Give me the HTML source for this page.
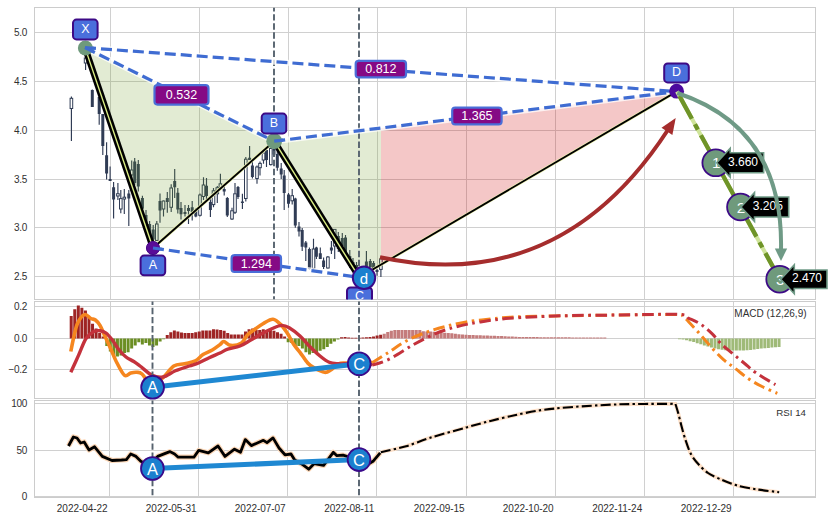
<!DOCTYPE html><html><head><meta charset="utf-8"><style>html,body{margin:0;padding:0;background:#fff;width:830px;height:520px;overflow:hidden}svg{display:block;font-family:"Liberation Sans",sans-serif}</style></head><body>
<svg width="830" height="520" viewBox="0 0 830 520">
<defs><clipPath id="c1"><rect x="34.5" y="7.5" width="781" height="292"/></clipPath><clipPath id="c2"><rect x="34.5" y="301.5" width="781" height="97"/></clipPath><clipPath id="c3"><rect x="34.5" y="400.5" width="781" height="97"/></clipPath></defs>
<rect width="830" height="520" fill="#fff"/>
<line x1="34.5" y1="32.5" x2="815.5" y2="32.5" stroke="#d0d0d0" stroke-width="1"/>
<line x1="34.5" y1="81.5" x2="815.5" y2="81.5" stroke="#d0d0d0" stroke-width="1"/>
<line x1="34.5" y1="130.5" x2="815.5" y2="130.5" stroke="#d0d0d0" stroke-width="1"/>
<line x1="34.5" y1="179.5" x2="815.5" y2="179.5" stroke="#d0d0d0" stroke-width="1"/>
<line x1="34.5" y1="227.5" x2="815.5" y2="227.5" stroke="#d0d0d0" stroke-width="1"/>
<line x1="34.5" y1="276.5" x2="815.5" y2="276.5" stroke="#d0d0d0" stroke-width="1"/>
<line x1="34.5" y1="306.5" x2="815.5" y2="306.5" stroke="#d0d0d0" stroke-width="1"/>
<line x1="34.5" y1="338.5" x2="815.5" y2="338.5" stroke="#d0d0d0" stroke-width="1"/>
<line x1="34.5" y1="369.5" x2="815.5" y2="369.5" stroke="#d0d0d0" stroke-width="1"/>
<line x1="34.5" y1="403.5" x2="815.5" y2="403.5" stroke="#d0d0d0" stroke-width="1"/>
<line x1="34.5" y1="450.5" x2="815.5" y2="450.5" stroke="#d0d0d0" stroke-width="1"/>
<line x1="34.5" y1="496.5" x2="815.5" y2="496.5" stroke="#d0d0d0" stroke-width="1"/>
<line x1="110.5" y1="7.5" x2="110.5" y2="299.5" stroke="#d0d0d0" stroke-width="1"/>
<line x1="110.5" y1="301.5" x2="110.5" y2="398.5" stroke="#d0d0d0" stroke-width="1"/>
<line x1="109.5" y1="400.5" x2="109.5" y2="497.5" stroke="#d0d0d0" stroke-width="1"/>
<line x1="199.5" y1="7.5" x2="199.5" y2="299.5" stroke="#d0d0d0" stroke-width="1"/>
<line x1="199.5" y1="301.5" x2="199.5" y2="398.5" stroke="#d0d0d0" stroke-width="1"/>
<line x1="198.5" y1="400.5" x2="198.5" y2="497.5" stroke="#d0d0d0" stroke-width="1"/>
<line x1="288.5" y1="7.5" x2="288.5" y2="299.5" stroke="#d0d0d0" stroke-width="1"/>
<line x1="288.5" y1="301.5" x2="288.5" y2="398.5" stroke="#d0d0d0" stroke-width="1"/>
<line x1="287.5" y1="400.5" x2="287.5" y2="497.5" stroke="#d0d0d0" stroke-width="1"/>
<line x1="377.5" y1="7.5" x2="377.5" y2="299.5" stroke="#d0d0d0" stroke-width="1"/>
<line x1="377.5" y1="301.5" x2="377.5" y2="398.5" stroke="#d0d0d0" stroke-width="1"/>
<line x1="376.5" y1="400.5" x2="376.5" y2="497.5" stroke="#d0d0d0" stroke-width="1"/>
<line x1="466.5" y1="7.5" x2="466.5" y2="299.5" stroke="#d0d0d0" stroke-width="1"/>
<line x1="466.5" y1="301.5" x2="466.5" y2="398.5" stroke="#d0d0d0" stroke-width="1"/>
<line x1="466.5" y1="400.5" x2="466.5" y2="497.5" stroke="#d0d0d0" stroke-width="1"/>
<line x1="555.5" y1="7.5" x2="555.5" y2="299.5" stroke="#d0d0d0" stroke-width="1"/>
<line x1="555.5" y1="301.5" x2="555.5" y2="398.5" stroke="#d0d0d0" stroke-width="1"/>
<line x1="555.5" y1="400.5" x2="555.5" y2="497.5" stroke="#d0d0d0" stroke-width="1"/>
<line x1="644.5" y1="7.5" x2="644.5" y2="299.5" stroke="#d0d0d0" stroke-width="1"/>
<line x1="644.5" y1="301.5" x2="644.5" y2="398.5" stroke="#d0d0d0" stroke-width="1"/>
<line x1="644.5" y1="400.5" x2="644.5" y2="497.5" stroke="#d0d0d0" stroke-width="1"/>
<line x1="733.5" y1="7.5" x2="733.5" y2="299.5" stroke="#d0d0d0" stroke-width="1"/>
<line x1="733.5" y1="301.5" x2="733.5" y2="398.5" stroke="#d0d0d0" stroke-width="1"/>
<line x1="733.5" y1="400.5" x2="733.5" y2="497.5" stroke="#d0d0d0" stroke-width="1"/>
<rect x="34.5" y="7.5" width="781" height="292" fill="none" stroke="#cccccc" stroke-width="1"/>
<rect x="34.5" y="301.5" width="781" height="97" fill="none" stroke="#cccccc" stroke-width="1"/>
<rect x="34.5" y="400.5" width="781" height="97" fill="none" stroke="#cccccc" stroke-width="1"/>
<text x="26.9" y="32.2" font-size="10" letter-spacing="-0.35" fill="#303030" text-anchor="end" dominant-baseline="central">5.0</text>
<text x="26.9" y="81.2" font-size="10" letter-spacing="-0.35" fill="#303030" text-anchor="end" dominant-baseline="central">4.5</text>
<text x="26.9" y="130.2" font-size="10" letter-spacing="-0.35" fill="#303030" text-anchor="end" dominant-baseline="central">4.0</text>
<text x="26.9" y="179.2" font-size="10" letter-spacing="-0.35" fill="#303030" text-anchor="end" dominant-baseline="central">3.5</text>
<text x="26.9" y="227.2" font-size="10" letter-spacing="-0.35" fill="#303030" text-anchor="end" dominant-baseline="central">3.0</text>
<text x="26.9" y="276.2" font-size="10" letter-spacing="-0.35" fill="#303030" text-anchor="end" dominant-baseline="central">2.5</text>
<text x="26.9" y="306.2" font-size="10" letter-spacing="-0.35" fill="#303030" text-anchor="end" dominant-baseline="central">0.2</text>
<text x="26.9" y="338.2" font-size="10" letter-spacing="-0.35" fill="#303030" text-anchor="end" dominant-baseline="central">0.0</text>
<text x="26.9" y="369.2" font-size="10" letter-spacing="-0.35" fill="#303030" text-anchor="end" dominant-baseline="central">−0.2</text>
<text x="26.9" y="403.2" font-size="10" letter-spacing="-0.35" fill="#303030" text-anchor="end" dominant-baseline="central">100</text>
<text x="26.9" y="450.2" font-size="10" letter-spacing="-0.35" fill="#303030" text-anchor="end" dominant-baseline="central">50</text>
<text x="26.9" y="496.2" font-size="10" letter-spacing="-0.35" fill="#303030" text-anchor="end" dominant-baseline="central">0</text>
<text x="82.2" y="512.1" font-size="10" letter-spacing="-0.05" fill="#303030" text-anchor="middle">2022-04-22</text>
<text x="171.2" y="512.1" font-size="10" letter-spacing="-0.05" fill="#303030" text-anchor="middle">2022-05-31</text>
<text x="260.2" y="512.1" font-size="10" letter-spacing="-0.05" fill="#303030" text-anchor="middle">2022-07-07</text>
<text x="349.2" y="512.1" font-size="10" letter-spacing="-0.05" fill="#303030" text-anchor="middle">2022-08-11</text>
<text x="439.2" y="512.1" font-size="10" letter-spacing="-0.05" fill="#303030" text-anchor="middle">2022-09-15</text>
<text x="528.2" y="512.1" font-size="10" letter-spacing="-0.05" fill="#303030" text-anchor="middle">2022-10-20</text>
<text x="617.2" y="512.1" font-size="10" letter-spacing="-0.05" fill="#303030" text-anchor="middle">2022-11-24</text>
<text x="706.2" y="512.1" font-size="10" letter-spacing="-0.05" fill="#303030" text-anchor="middle">2022-12-29</text>
<g clip-path="url(#c1)">
<path d="M71.4 96.4V141M85.6 57V70M92.3 89.6V107M99.2 97V124.8M102.8 114V155M106.6 142.3V179.5M110.1 166.5V181M113.6 182V218.4M117.9 183V200M120.8 190V213.3M124.3 189V214M128.8 190V226M131.7 160.5V190M134.7 158V185M138.3 160V191.6M142.4 195.8V212M146 210V230M149.6 221V240M153.2 225V245M156.8 221V241M160 193.5V222.7M163.5 200.4V216.5M167.3 192V212.7M171.2 184.2V212M174.7 169V198M177.8 188V213.5M181 202V219.6M185 205V216.5M188.5 205V224M192.2 201V220.4M195.8 208V217.3M200 193.5V216.5M203.5 177.3V200M206.5 178V200M210.4 198.5V217M213.5 188V207.3M217.3 186V203M220.4 173.8V189M224.2 186V195.4M227.3 197V217M232 207.7V220M235 183V214M238 186V199M242.4 193.8V209M245.8 157V201.5M249.6 146V160M252.4 160V178.5M257 165.4V183.8M260 161.5V175.4M263.5 150.8V163.8M266.5 148V167M270.8 147.7V165.4M274 145V156M277.3 150V170.8M281.2 163V179M284.2 170V210M288.5 193V207.7M292.2 189V204.6M295.3 197.7V227.7M299 222V236.6M302.2 228V251M305.8 241V261M309.4 247.5V269.8M313.5 238.8V269.8M316.4 246.7V259M320.3 247.5V259M323.6 257.6V269M327.9 256V268.4M331.4 241V254M334.7 229.4V259M338.3 232V252M342.3 233V251M345.5 235V258M349.8 250V268M353 258V272M356.5 262V276M366.4 251V267.3M370.3 259V267.3M373.6 261V268.4M377 269V275.8M380.9 256.8V276.9" stroke="#303c55" stroke-width="1.15" fill="none"/>
<path d="M90.8 90h3v17h-3zM97.7 97h3v17h-3zM101.3 114h3v32h-3zM105.1 155.3h3v18.2h-3zM108.6 179h3v2h-3zM112.1 187.3h3v12.1h-3zM127.3 193.4h3v5.2h-3zM133.2 161.4h3v21.6h-3zM136.8 164h3v22.4h-3zM140.9 198h3v10.8h-3zM144.5 215h3v13h-3zM148.1 224h3v9.5h-3zM151.7 229.6h3v10h-3zM158.5 201h3v9.4h-3zM165.8 198h3v4h-3zM173.2 181h3v6.3h-3zM176.3 192.7h3v16.9h-3zM179.5 208h3v6.2h-3zM183.5 212h3v2h-3zM187 208h3v3h-3zM190.7 207.3h3v4.7h-3zM194.3 211h3v5.5h-3zM205 185.8h3v10.2h-3zM208.9 202h3v8h-3zM222.7 189h3v2.5h-3zM225.8 198h3v17.4h-3zM236.5 187h3v10h-3zM240.9 201.5h3v1.5h-3zM248.1 157.7h3v2.3h-3zM250.9 165.4h3v11.6h-3zM265 150h3v10h-3zM272.5 149h3v5.6h-3zM275.8 154h3v13.7h-3zM279.7 168.5h3v6.1h-3zM282.7 175.4h3v17.6h-3zM287 194.6h3v9.2h-3zM293.8 198.5h3v26.9h-3zM297.5 226.5h3v5.1h-3zM300.7 230h3v16.7h-3zM304.3 242.4h3v5.1h-3zM307.9 249h3v20h-3zM314.9 247.5h3v9.3h-3zM318.8 253.2h3v5.8h-3zM322.1 260.5h3v6.5h-3zM329.9 247.5h3v2.9h-3zM336.8 236h3v13h-3zM340.8 238h3v8h-3zM344 237.4h3v19.4h-3zM348.3 256h3v10h-3zM351.5 262h3v8h-3zM355 265h3v8h-3zM364.9 261.5h3v5.8h-3zM368.8 261h3v6.3h-3zM372.1 263h3v5.4h-3zM375.5 270h3v2h-3z" fill="#303c55"/>
<rect x="70.1" y="98.3" width="2.6" height="10.2" fill="#fff" stroke="#303c55" stroke-width="1"/>
<rect x="84.3" y="58" width="2.6" height="5" fill="#fff" stroke="#303c55" stroke-width="1"/>
<rect x="116.6" y="193.7" width="2.6" height="2.3" fill="#fff" stroke="#303c55" stroke-width="1"/>
<rect x="119.5" y="198.6" width="2.6" height="10.4" fill="#fff" stroke="#303c55" stroke-width="1"/>
<rect x="123" y="197.2" width="2.6" height="1.8" fill="#fff" stroke="#303c55" stroke-width="1"/>
<rect x="130.4" y="170" width="2.6" height="5" fill="#fff" stroke="#303c55" stroke-width="1"/>
<rect x="155.5" y="224" width="2.6" height="16.4" fill="#fff" stroke="#303c55" stroke-width="1"/>
<rect x="162.2" y="201" width="2.6" height="8" fill="#fff" stroke="#303c55" stroke-width="1"/>
<rect x="169.9" y="188" width="2.6" height="19.3" fill="#fff" stroke="#303c55" stroke-width="1"/>
<rect x="198.7" y="195" width="2.6" height="20.3" fill="#fff" stroke="#303c55" stroke-width="1"/>
<rect x="202.2" y="185" width="2.6" height="11.5" fill="#fff" stroke="#303c55" stroke-width="1"/>
<rect x="212.2" y="190.8" width="2.6" height="13.8" fill="#fff" stroke="#303c55" stroke-width="1"/>
<rect x="216" y="187.7" width="2.6" height="6.1" fill="#fff" stroke="#303c55" stroke-width="1"/>
<rect x="219.1" y="183.8" width="2.6" height="3.9" fill="#fff" stroke="#303c55" stroke-width="1"/>
<rect x="230.7" y="210.8" width="2.6" height="8.2" fill="#fff" stroke="#303c55" stroke-width="1"/>
<rect x="233.7" y="193.8" width="2.6" height="18.5" fill="#fff" stroke="#303c55" stroke-width="1"/>
<rect x="244.5" y="159.2" width="2.6" height="39.3" fill="#fff" stroke="#303c55" stroke-width="1"/>
<rect x="255.7" y="167" width="2.6" height="11.5" fill="#fff" stroke="#303c55" stroke-width="1"/>
<rect x="258.7" y="163.4" width="2.6" height="4.3" fill="#fff" stroke="#303c55" stroke-width="1"/>
<rect x="262.2" y="153" width="2.6" height="7" fill="#fff" stroke="#303c55" stroke-width="1"/>
<rect x="269.5" y="148.5" width="2.6" height="16.1" fill="#fff" stroke="#303c55" stroke-width="1"/>
<rect x="290.9" y="195.7" width="2.6" height="5.1" fill="#fff" stroke="#303c55" stroke-width="1"/>
<rect x="312.2" y="249" width="2.6" height="19.4" fill="#fff" stroke="#303c55" stroke-width="1"/>
<rect x="326.6" y="257" width="2.6" height="11" fill="#fff" stroke="#303c55" stroke-width="1"/>
<rect x="333.4" y="229.4" width="2.6" height="16.6" fill="#fff" stroke="#303c55" stroke-width="1"/>
<rect x="379.6" y="258.9" width="2.6" height="10.5" fill="#fff" stroke="#303c55" stroke-width="1"/>
<polygon points="85,47.6 153,248 274.2,141.2" fill="rgb(110,155,35)" fill-opacity="0.2"/>
<polygon points="274.2,141.2 359.2,277.4 381,264.64 381,128.04" fill="rgb(110,155,35)" fill-opacity="0.2"/>
<polygon points="381,128.04 381,264.64 676.6,91.6" fill="rgb(205,0,0)" fill-opacity="0.22"/>
<line x1="274" y1="7.5" x2="274" y2="299.5" stroke="#56626e" stroke-width="1.9" stroke-dasharray="6.4 2.7" stroke-dashoffset="2.45"/>
<line x1="359" y1="7.5" x2="359" y2="299.5" stroke="#56626e" stroke-width="1.9" stroke-dasharray="6.4 2.7" stroke-dashoffset="2.45"/>
<line x1="85" y1="47.6" x2="274.2" y2="141.2" stroke="#fff" stroke-opacity="0.75" stroke-width="6"/>
<line x1="85" y1="47.6" x2="676.6" y2="91.6" stroke="#fff" stroke-opacity="0.75" stroke-width="6"/>
<line x1="153" y1="248" x2="359.2" y2="277.4" stroke="#fff" stroke-opacity="0.75" stroke-width="6"/>
<line x1="274.2" y1="141.2" x2="676.6" y2="91.6" stroke="#fff" stroke-opacity="0.75" stroke-width="6"/>
<line x1="85" y1="47.6" x2="274.2" y2="141.2" stroke="#3f6cd2" stroke-width="3.2" stroke-dasharray="11 5"/>
<line x1="85" y1="47.6" x2="676.6" y2="91.6" stroke="#3f6cd2" stroke-width="3.2" stroke-dasharray="11 5"/>
<line x1="153" y1="248" x2="359.2" y2="277.4" stroke="#3f6cd2" stroke-width="3.2" stroke-dasharray="11 5"/>
<line x1="274.2" y1="141.2" x2="676.6" y2="91.6" stroke="#3f6cd2" stroke-width="3.2" stroke-dasharray="11 5"/>
<line x1="85" y1="47.6" x2="153" y2="248" stroke="#000" stroke-width="6.4"/>
<line x1="85" y1="47.6" x2="153" y2="248" stroke="#dcef86" stroke-width="1.4"/>
<line x1="274.2" y1="141.2" x2="359.2" y2="277.4" stroke="#000" stroke-width="6.4"/>
<line x1="274.2" y1="141.2" x2="359.2" y2="277.4" stroke="#dcef86" stroke-width="1.4"/>
<line x1="153" y1="248" x2="274.2" y2="141.2" stroke="#eef5b0" stroke-width="3.2"/>
<line x1="153" y1="248" x2="274.2" y2="141.2" stroke="#000" stroke-width="2"/>
<line x1="359.2" y1="277.4" x2="676.6" y2="91.6" stroke="#eef5b0" stroke-width="3"/>
<line x1="359.2" y1="277.4" x2="676.6" y2="91.6" stroke="#000" stroke-width="1.8"/>
<circle cx="85.4" cy="48" r="7.5" fill="#6f9a7c"/>
<circle cx="274.2" cy="141.2" r="7.9" fill="#6f9a7c"/>
<circle cx="153.0" cy="248.0" r="6.6" fill="#5a0c98" stroke="#4a0a88" stroke-width="1"/>
<circle cx="676.6" cy="91.19999999999999" r="7.4" fill="#4b0a9e"/>
<line x1="85" y1="47.6" x2="93.07" y2="51.59" stroke="#3f6cd2" stroke-width="3.2"/>
<line x1="85" y1="47.6" x2="93.98" y2="48.27" stroke="#3f6cd2" stroke-width="3.2"/>
<line x1="153" y1="248" x2="161.91" y2="249.27" stroke="#3f6cd2" stroke-width="3.2"/>
<line x1="274.2" y1="141.2" x2="283.13" y2="140.1" stroke="#3f6cd2" stroke-width="3.2"/>
<rect x="73" y="19.6" width="24.6" height="19.8" rx="3.5" fill="#4a6fdc" stroke="#3d0a86" stroke-width="2"/>
<text x="85.3" y="28.6" font-size="12.5" fill="#fff" text-anchor="middle" dominant-baseline="central">X</text>
<rect x="140.6" y="255.6" width="24.6" height="19.6" rx="3.5" fill="#4a6fdc" stroke="#3d0a86" stroke-width="2"/>
<text x="152.9" y="264.5" font-size="12.5" fill="#fff" text-anchor="middle" dominant-baseline="central">A</text>
<rect x="261.7" y="113.6" width="24.6" height="19.8" rx="3.5" fill="#4a6fdc" stroke="#3d0a86" stroke-width="2"/>
<text x="274" y="122.6" font-size="12.5" fill="#fff" text-anchor="middle" dominant-baseline="central">B</text>
<rect x="664.2" y="63.4" width="24.6" height="19" rx="3.5" fill="#4a6fdc" stroke="#3d0a86" stroke-width="2"/>
<text x="676.5" y="72" font-size="12.5" fill="#fff" text-anchor="middle" dominant-baseline="central">D</text>
<rect x="347" y="287.5" width="25" height="18.5" rx="3.5" fill="#4a6fdc" stroke="#3d0a86" stroke-width="2"/>
<text x="359.5" y="295.85" font-size="12.5" fill="#fff" text-anchor="middle" dominant-baseline="central">C</text>
<circle cx="364" cy="277.8" r="11.2" fill="#1b80cf" stroke="#3a0a8a" stroke-width="2"/>
<text x="364" y="278.5" font-size="15" fill="#fff" text-anchor="middle" dominant-baseline="central">d</text>
<rect x="154.5" y="85.2" width="54" height="19.4" rx="3" fill="#850a85" stroke="#4a6ed8" stroke-width="2.2"/>
<text x="181.5" y="95.2" font-size="12.5" fill="#fff" text-anchor="middle" dominant-baseline="central">0.532</text>
<rect x="355.7" y="60.8" width="50.3" height="16.6" rx="3" fill="#850a85" stroke="#4a6ed8" stroke-width="2.2"/>
<text x="380.85" y="69.4" font-size="12.5" fill="#fff" text-anchor="middle" dominant-baseline="central">0.812</text>
<rect x="231.6" y="255.2" width="49.4" height="16.7" rx="3" fill="#850a85" stroke="#4a6ed8" stroke-width="2.2"/>
<text x="256.3" y="263.85" font-size="12.5" fill="#fff" text-anchor="middle" dominant-baseline="central">1.294</text>
<rect x="452.2" y="107.6" width="49.4" height="16.8" rx="3" fill="#850a85" stroke="#4a6ed8" stroke-width="2.2"/>
<text x="476.9" y="116.3" font-size="12.5" fill="#fff" text-anchor="middle" dominant-baseline="central">1.365</text>
<path d="M380 257.3 Q559.2 295.9 667.5 130.5" fill="none" stroke="#a52d2d" stroke-width="4"/>
<polygon points="675.72,117.95 672.39,134.9 661.51,127.78" fill="#a52d2d"/>
<polyline points="677,91.5 779.7,279.2" fill="none" stroke="#cfe49a" stroke-width="4"/>
<polyline points="677,91.5 779.7,279.2" fill="none" stroke="#6f9428" stroke-width="4.4" stroke-dasharray="26 6.4 6 6.4" stroke-dashoffset="39.8"/>
</g>
<circle cx="715.8" cy="162.8" r="13.4" fill="#6f9a7c" stroke="#3d0a86" stroke-width="1.8"/>
<text x="716.3" y="162.8" font-size="15.5" fill="#fff" text-anchor="middle" dominant-baseline="central">1</text>
<polygon points="716.7,162.8 730.2,148.3 730.2,152.8 763.6,152.8 763.6,172.8 730.2,172.8 730.2,177.3" fill="#000" stroke="#6f9a86" stroke-width="1.6" stroke-linejoin="miter"/>
<text x="743" y="162" font-size="12" fill="#fff" text-anchor="middle" dominant-baseline="central">3.660</text>
<circle cx="740.5" cy="207" r="13.4" fill="#6f9a7c" stroke="#3d0a86" stroke-width="1.8"/>
<text x="741" y="207" font-size="15.5" fill="#fff" text-anchor="middle" dominant-baseline="central">2</text>
<polygon points="741,207 754.5,192.5 754.5,197 788.7,197 788.7,217 754.5,217 754.5,221.5" fill="#000" stroke="#6f9a86" stroke-width="1.6" stroke-linejoin="miter"/>
<text x="767.8" y="206.2" font-size="12" fill="#fff" text-anchor="middle" dominant-baseline="central">3.205</text>
<circle cx="779.7" cy="279.2" r="13.4" fill="#6f9a7c" stroke="#3d0a86" stroke-width="1.8"/>
<text x="780.2" y="279.2" font-size="15.5" fill="#fff" text-anchor="middle" dominant-baseline="central">3</text>
<polygon points="780.8,279.2 794.3,264.7 794.3,269.95 827,269.95 827,288.45 794.3,288.45 794.3,293.7" fill="#000" stroke="#6f9a86" stroke-width="1.6" stroke-linejoin="miter"/>
<text x="807" y="278.4" font-size="12" fill="#fff" text-anchor="middle" dominant-baseline="central">2.470</text>
<path d="M677.3 93 Q783.7 128.3 781 250" fill="none" stroke="#6f9a86" stroke-width="4"/>
<polygon points="781,261 774.8,248.5 787.2,248.5" fill="#6f9a86"/>
<g clip-path="url(#c2)">
<path d="M69.7 316h3v22.5h-3zM73.26 309.2h3v29.3h-3zM76.81 305.4h3v33.1h-3zM80.37 307.7h3v30.8h-3zM83.93 310.5h3v28h-3zM87.48 317h3v21.5h-3zM91.04 323.8h3v14.7h-3zM94.6 328.5h3v10h-3zM98.16 333h3v5.5h-3zM101.71 336.5h3v2h-3zM165.74 335h3v3.5h-3zM169.3 332.3h3v6.2h-3zM172.85 330.5h3v8h-3zM176.41 331.5h3v7h-3zM179.97 332.6h3v5.9h-3zM183.52 333h3v5.5h-3zM187.08 333h3v5.5h-3zM190.64 333h3v5.5h-3zM194.19 332.3h3v6.2h-3zM197.75 331.5h3v7h-3zM201.31 330.5h3v8h-3zM204.87 330.5h3v8h-3zM208.42 330.5h3v8h-3zM211.98 329.2h3v9.3h-3zM215.54 329.5h3v9h-3zM219.09 330h3v8.5h-3zM222.65 330.8h3v7.7h-3zM226.21 333h3v5.5h-3zM229.76 334.6h3v3.9h-3zM233.32 334.6h3v3.9h-3zM236.88 334.6h3v3.9h-3zM240.44 334.6h3v3.9h-3zM243.99 331.5h3v7h-3zM247.55 329.2h3v9.3h-3zM251.11 328.5h3v10h-3zM254.66 330h3v8.5h-3zM258.22 330h3v8.5h-3zM261.78 329.2h3v9.3h-3zM265.33 331.5h3v7h-3zM268.89 330h3v8.5h-3zM272.45 330.8h3v7.7h-3zM276.01 332.3h3v6.2h-3zM279.56 333.8h3v4.7h-3zM283.12 336.5h3v2h-3zM340.03 337.2h3v1.3h-3zM343.59 337h3v1.5h-3zM347.15 337.4h3v1.1h-3zM350.7 337.8h3v0.7h-3zM354.26 337.8h3v0.7h-3zM357.82 337.8h3v0.7h-3zM361.37 337.6h3v0.9h-3zM364.93 337.3h3v1.2h-3zM368.49 336.9h3v1.6h-3zM372.04 336.4h3v2.1h-3zM375.6 335.6h3v2.9h-3zM379.16 334.8h3v3.7h-3z" fill="#9e2424"/>
<path d="M105.27 338.5h3v7.5h-3zM108.83 338.5h3v13h-3zM112.38 338.5h3v16.9h-3zM115.94 338.5h3v18.1h-3zM119.5 338.5h3v16.9h-3zM123.06 338.5h3v14.5h-3zM126.61 338.5h3v13.8h-3zM130.17 338.5h3v10h-3zM133.73 338.5h3v6.9h-3zM137.28 338.5h3v3.8h-3zM140.84 338.5h3v6.1h-3zM144.4 338.5h3v4.5h-3zM147.95 338.5h3v6.9h-3zM151.51 338.5h3v8.5h-3zM155.07 338.5h3v6.9h-3zM158.62 338.5h3v3h-3zM162.18 338.5h3v0.7h-3zM286.68 338.5h3v3.8h-3zM290.23 338.5h3v4.5h-3zM293.79 338.5h3v7.5h-3zM297.35 338.5h3v7.5h-3zM300.9 338.5h3v10h-3zM304.46 338.5h3v13.8h-3zM308.02 338.5h3v16.1h-3zM311.58 338.5h3v14.5h-3zM315.13 338.5h3v13.8h-3zM318.69 338.5h3v12.3h-3zM322.25 338.5h3v10.7h-3zM325.8 338.5h3v8.5h-3zM329.36 338.5h3v5.3h-3zM332.92 338.5h3v3h-3zM336.47 338.5h3v1h-3z" fill="#6b8e23"/>
<path d="M382.67 333.7h3.1v4.8h-3.1zM386.22 331.9h3.1v6.6h-3.1zM389.78 330.7h3.1v7.8h-3.1zM393.34 330h3.1v8.5h-3.1zM396.89 330h3.1v8.5h-3.1zM400.45 330h3.1v8.5h-3.1zM404.01 330h3.1v8.5h-3.1zM407.56 330h3.1v8.5h-3.1zM411.12 330h3.1v8.5h-3.1zM414.68 330h3.1v8.5h-3.1zM418.24 330h3.1v8.5h-3.1zM421.79 331.3h3.1v7.2h-3.1zM425.35 331.45h3.1v7.05h-3.1zM428.91 331.6h3.1v6.9h-3.1zM432.46 331.75h3.1v6.75h-3.1zM436.02 331.9h3.1v6.6h-3.1zM439.58 332.35h3.1v6.15h-3.1zM443.13 332.8h3.1v5.7h-3.1zM446.69 333.05h3.1v5.45h-3.1zM450.25 333.3h3.1v5.2h-3.1zM453.81 333.8h3.1v4.7h-3.1zM457.36 334.3h3.1v4.2h-3.1zM460.92 334.5h3.1v4h-3.1zM464.48 334.7h3.1v3.8h-3.1zM468.03 334.9h3.1v3.6h-3.1zM471.59 335.02h3.1v3.48h-3.1zM475.15 335.14h3.1v3.36h-3.1zM478.7 335.27h3.1v3.23h-3.1zM482.26 335.39h3.1v3.11h-3.1zM485.82 335.51h3.1v2.99h-3.1zM489.38 335.63h3.1v2.87h-3.1zM492.93 335.76h3.1v2.74h-3.1zM496.49 335.88h3.1v2.62h-3.1zM500.05 336h3.1v2.5h-3.1zM503.6 336.2h3.1v2.3h-3.1zM507.16 336.4h3.1v2.1h-3.1zM510.72 336.6h3.1v1.9h-3.1zM514.28 336.8h3.1v1.7h-3.1zM517.83 337h3.1v1.5h-3.1zM521.39 337.02h3.1v1.48h-3.1zM524.95 337.05h3.1v1.45h-3.1zM528.5 337.07h3.1v1.43h-3.1zM532.06 337.1h3.1v1.4h-3.1zM535.62 337.12h3.1v1.38h-3.1zM539.17 337.15h3.1v1.35h-3.1zM542.73 337.18h3.1v1.32h-3.1zM546.29 337.2h3.1v1.3h-3.1zM549.85 337.23h3.1v1.27h-3.1zM553.4 337.25h3.1v1.25h-3.1zM556.96 337.28h3.1v1.22h-3.1zM560.52 337.3h3.1v1.2h-3.1zM564.07 337.32h3.1v1.18h-3.1zM567.63 337.35h3.1v1.15h-3.1zM571.19 337.38h3.1v1.12h-3.1zM574.74 337.4h3.1v1.1h-3.1zM578.3 337.43h3.1v1.07h-3.1zM581.86 337.45h3.1v1.05h-3.1zM585.42 337.48h3.1v1.02h-3.1zM588.97 337.5h3.1v1h-3.1zM592.53 337.53h3.1v0.97h-3.1zM596.09 337.55h3.1v0.95h-3.1zM599.64 337.58h3.1v0.92h-3.1zM603.2 337.6h3.1v0.9h-3.1z" fill="#c47c7c"/>
<path d="M677.95 338.5h3v0.8h-3zM681.5 338.5h3v1.1h-3zM685.06 338.5h3v1.87h-3zM688.62 338.5h3v2.63h-3zM692.18 338.5h3v3.4h-3zM695.73 338.5h3v4.63h-3zM699.29 338.5h3v5.87h-3zM702.85 338.5h3v7.1h-3zM706.4 338.5h3v8.1h-3zM709.96 338.5h3v9.1h-3zM713.52 338.5h3v10.1h-3zM717.07 338.5h3v10.7h-3zM720.63 338.5h3v11.17h-3zM724.19 338.5h3v11.63h-3zM727.75 338.5h3v12.1h-3zM731.3 338.5h3v12.1h-3zM734.86 338.5h3v12.1h-3zM738.42 338.5h3v12.1h-3zM741.97 338.5h3v11.95h-3zM745.53 338.5h3v11.8h-3zM749.09 338.5h3v11.38h-3zM752.64 338.5h3v10.95h-3zM756.2 338.5h3v10.53h-3zM759.76 338.5h3v10.1h-3zM763.32 338.5h3v9.76h-3zM766.87 338.5h3v9.42h-3zM770.43 338.5h3v9.08h-3zM773.99 338.5h3v8.74h-3zM777.54 338.5h3v8.4h-3z" fill="#9fba78"/>
<path d="M70.8 351.5C71.3 349.08 72.65 341.75 73.8 337C74.95 332.25 75.9 326.73 77.7 323C79.5 319.27 82.42 315.35 84.6 314.6C86.78 313.85 89 317.6 90.8 318.5C92.6 319.4 93.87 318.85 95.4 320C96.93 321.15 98.47 322.83 100 325.4C101.53 327.97 102.8 331.47 104.6 335.4C106.4 339.33 108.73 344.4 110.8 349C112.87 353.6 114.7 358.6 117 363C119.3 367.4 122.3 373.73 124.6 375.4C126.9 377.07 128.73 373.52 130.8 373C132.87 372.48 135.13 372.13 137 372.3C138.87 372.47 139.5 371.88 142 374C144.5 376.12 148.5 384.38 152 385C155.5 385.62 159.37 380.87 163 377.7C166.63 374.53 170.2 368.32 173.8 366C177.4 363.68 181 364.67 184.6 363.8C188.2 362.93 192.33 362.33 195.4 360.8C198.47 359.27 200.18 356.4 203 354.6C205.82 352.8 209.47 351.67 212.3 350C215.13 348.33 218.08 346.02 220 344.6C221.92 343.18 222 341.37 223.8 341.5C225.6 341.63 227.85 345.15 230.8 345.4C233.75 345.65 238.8 344.67 241.5 343C244.2 341.33 244.95 337.57 247 335.4C249.05 333.23 251.13 331.93 253.8 330C256.47 328.07 259.8 325.6 263 323.8C266.2 322 269.92 318.93 273 319.2C276.08 319.47 279.05 322.97 281.5 325.4C283.95 327.83 285.65 330.6 287.7 333.8C289.75 337 291.75 341.52 293.8 344.6C295.85 347.68 297.68 349.23 300 352.3C302.32 355.37 305.4 360.43 307.7 363C310 365.57 310.98 366.15 313.8 367.7C316.62 369.25 321.77 371.92 324.6 372.3C327.43 372.68 328.48 371.42 330.8 370C333.12 368.58 335.97 364.97 338.5 363.8C341.03 362.63 342.58 363.13 346 363C349.42 362.87 354.62 363.12 359 363C363.38 362.88 370.08 362.42 372.3 362.3" fill="none" stroke="#f5861f" stroke-width="3.6" stroke-linejoin="round"/>
<path d="M70.8 372.3C72.08 369.48 75.97 361.03 78.5 355.4C81.03 349.77 83.45 342.48 86 338.5C88.55 334.52 91.47 332.78 93.8 331.5C96.13 330.22 97.97 330.55 100 330.8C102.03 331.05 103.95 331.47 106 333C108.05 334.53 110.22 337.3 112.3 340C114.38 342.7 116.22 346.37 118.5 349.2C120.78 352.03 123.45 354.95 126 357C128.55 359.05 131.47 360 133.8 361.5C136.13 363 136.92 363.68 140 366C143.08 368.32 148.47 373.57 152.3 375.4C156.13 377.23 159.15 377.77 163 377C166.85 376.23 171.03 372.63 175.4 370.8C179.77 368.97 185.35 367.3 189.2 366C193.05 364.7 195.17 364.38 198.5 363C201.83 361.62 205.62 359.37 209.2 357.7C212.78 356.03 216.92 354.42 220 353C223.08 351.58 224.37 350.37 227.7 349.2C231.03 348.03 236.15 347.53 240 346C243.85 344.47 247.22 342.03 250.8 340C254.38 337.97 257.92 335.72 261.5 333.8C265.08 331.88 268.97 329.9 272.3 328.5C275.63 327.1 278.68 325.53 281.5 325.4C284.32 325.27 286.12 325.93 289.2 327.7C292.28 329.47 296.67 332.95 300 336C303.33 339.05 305.87 342.67 309.2 346C312.53 349.33 316.67 353.28 320 356C323.33 358.72 326.12 361 329.2 362.3C332.28 363.6 335.7 363.55 338.5 363.8C341.3 364.05 342.58 363.68 346 363.8C349.42 363.92 354.62 364.37 359 364.5C363.38 364.63 370.08 364.58 372.3 364.6" fill="none" stroke="#c4323c" stroke-width="3.4" stroke-linejoin="round"/>
<path d="M372.2 362.8C375.02 361 383.47 355.62 389.1 352C394.73 348.38 399.98 344.32 406 341.1C412.02 337.88 418.78 335.1 425.2 332.7C431.62 330.3 437.67 328.5 444.5 326.7C451.33 324.9 458.57 323.18 466.2 321.9C473.83 320.62 482.27 319.82 490.3 319C498.33 318.18 502.35 317.53 514.4 317C526.45 316.47 545 316.13 562.6 315.8C580.2 315.47 601.1 315.2 620 315C638.9 314.8 665.5 314.38 676 314.6C686.5 314.82 680.87 315.07 683 316.3C685.13 317.53 685.9 318.95 688.8 322C691.7 325.05 696.53 330.27 700.4 334.6C704.27 338.93 708.15 343.83 712 348C715.85 352.17 719.67 356.22 723.5 359.6C727.33 362.98 730.83 365.1 735 368.3C739.17 371.5 744 375.77 748.5 378.8C753 381.83 757.2 384.08 762 386.5C766.8 388.92 774.75 392.17 777.3 393.3" fill="none" stroke="#f5861f" stroke-width="3" stroke-dasharray="11.5 4.6 2.6 4.6"/>
<path d="M372.2 365.2C375.02 364.2 382.27 362.6 389.1 359.2C395.93 355.8 405.57 349.02 413.2 344.8C420.83 340.58 427.67 336.92 434.9 333.9C442.13 330.88 448.97 328.7 456.6 326.7C464.23 324.7 471.87 323.3 480.7 321.9C489.53 320.5 495.95 319.32 509.6 318.3C523.25 317.28 544.2 316.35 562.6 315.8C581 315.25 600.57 315.23 620 315C639.43 314.77 667.73 313.85 679.2 314.4C690.67 314.95 685.27 316.7 688.8 318.3C692.33 319.9 696.53 321.43 700.4 324C704.27 326.57 708.48 330.33 712 333.7C715.52 337.07 718 340.85 721.5 344.2C725 347.55 729.15 350.58 733 353.8C736.85 357.02 740.73 360.3 744.6 363.5C748.47 366.7 751.07 369.48 756.2 373C761.33 376.52 772.2 382.67 775.4 384.6" fill="none" stroke="#c4323c" stroke-width="3" stroke-dasharray="11.5 4.6 2.6 4.6"/>
<text x="734.3" y="313.6" font-size="10" fill="#303030" dominant-baseline="central">MACD (12,26,9)</text>
</g>
<g clip-path="url(#c3)">
<polyline points="68.5,446 73.4,437 77,438 80.6,443 84.2,442 89,450 94.6,446.8 102.3,456.4 112,460.5 121.6,460 126.4,459.6 130.7,454 136,456.4 140.8,461.3 146,464 152,462 157.7,456.4 169.8,451.6 174.6,454 178.2,457.2 193.9,457.2 198.7,450.4 208.3,452.8 218,446 225,456.4 234.5,449.2 240.5,452.3 245.3,439.6 251.3,445.6 263.4,440.3 267,442.7 273,437.9 279,448 285,454.8 291,454 294.7,460 303,464.9 308.7,469.2 314,463.7 323.6,465.4 333.3,452.3 336.9,455.7 343,455.2 352,458 365,466 373,461.3 380.2,452.8" fill="none" stroke="#fbd6b6" stroke-width="5.2" stroke-linejoin="round"/>
<polyline points="68.5,446 73.4,437 77,438 80.6,443 84.2,442 89,450 94.6,446.8 102.3,456.4 112,460.5 121.6,460 126.4,459.6 130.7,454 136,456.4 140.8,461.3 146,464 152,462 157.7,456.4 169.8,451.6 174.6,454 178.2,457.2 193.9,457.2 198.7,450.4 208.3,452.8 218,446 225,456.4 234.5,449.2 240.5,452.3 245.3,439.6 251.3,445.6 263.4,440.3 267,442.7 273,437.9 279,448 285,454.8 291,454 294.7,460 303,464.9 308.7,469.2 314,463.7 323.6,465.4 333.3,452.3 336.9,455.7 343,455.2 352,458 365,466 373,461.3 380.2,452.8" fill="none" stroke="#000" stroke-width="2.8" stroke-linejoin="round"/>
<path d="M380.8 452.2C384.6 451.3 398.69 448.36 406.1 446.2C413.51 444.04 421.15 440.62 430.2 437.8C439.25 434.98 457.35 429.94 466.4 427.4C475.44 424.86 483.27 422.71 490.5 420.9C497.73 419.08 507.37 416.86 514.6 415.3C521.83 413.74 530.39 411.72 538.7 410.5C547.01 409.28 557.81 408.13 570 407.2C582.19 406.27 604.19 404.81 620 404.3C635.81 403.79 667.09 403.88 675.4 403.8C675.83 405.24 677.43 410.23 678.3 413.4C679.17 416.56 680.2 421.15 681.2 424.9C682.21 428.65 683.56 434.06 685 438.4C686.44 442.73 688.77 449.92 690.8 453.8C692.82 457.69 695.92 461.42 698.5 464.3C701.08 467.18 704.55 470.69 708 473C711.45 475.31 717.15 477.82 721.5 479.7C725.85 481.57 731.79 484.06 737 485.5C742.21 486.94 749.87 488.3 756.2 489.3C762.53 490.31 775.75 491.76 779.2 492.2" fill="none" stroke="#fde0c8" stroke-width="3.8"/>
<path d="M380.8 452.2C384.6 451.3 398.69 448.36 406.1 446.2C413.51 444.04 421.15 440.62 430.2 437.8C439.25 434.98 457.35 429.94 466.4 427.4C475.44 424.86 483.27 422.71 490.5 420.9C497.73 419.08 507.37 416.86 514.6 415.3C521.83 413.74 530.39 411.72 538.7 410.5C547.01 409.28 557.81 408.13 570 407.2C582.19 406.27 604.19 404.81 620 404.3C635.81 403.79 667.09 403.88 675.4 403.8C675.83 405.24 677.43 410.23 678.3 413.4C679.17 416.56 680.2 421.15 681.2 424.9C682.21 428.65 683.56 434.06 685 438.4C686.44 442.73 688.77 449.92 690.8 453.8C692.82 457.69 695.92 461.42 698.5 464.3C701.08 467.18 704.55 470.69 708 473C711.45 475.31 717.15 477.82 721.5 479.7C725.85 481.57 731.79 484.06 737 485.5C742.21 486.94 749.87 488.3 756.2 489.3C762.53 490.31 775.75 491.76 779.2 492.2" fill="none" stroke="#000" stroke-width="2.1" stroke-dasharray="10 3.2 2.4 3.2"/>
<text x="776.3" y="412.9" font-size="9.7" fill="#303030" dominant-baseline="central">RSI 14</text>
</g>
<line x1="152.5" y1="301.5" x2="152.5" y2="398.5" stroke="#56626e" stroke-width="1.9" stroke-dasharray="6.4 2.7" stroke-dashoffset="2.8"/>
<line x1="152.5" y1="400.5" x2="152.5" y2="497.5" stroke="#56626e" stroke-width="1.9" stroke-dasharray="6.4 2.7" stroke-dashoffset="2.6"/>
<line x1="359" y1="301.5" x2="359" y2="398.5" stroke="#56626e" stroke-width="1.9" stroke-dasharray="6.4 2.7" stroke-dashoffset="2.8"/>
<line x1="359" y1="400.5" x2="359" y2="497.5" stroke="#56626e" stroke-width="1.9" stroke-dasharray="6.4 2.7" stroke-dashoffset="2.6"/>
<line x1="152.6" y1="387.3" x2="359.2" y2="363.8" stroke="#1f88d2" stroke-width="5"/>
<line x1="152.4" y1="468.5" x2="359.0" y2="459.6" stroke="#1f88d2" stroke-width="5"/>
<circle cx="152.6" cy="387.3" r="11.4" fill="#1b80cf" stroke="#3a0a8a" stroke-width="1.8"/>
<text x="152.6" y="387.4" font-size="16.5" fill="#fff" text-anchor="middle" dominant-baseline="central">A</text>
<circle cx="359.2" cy="363.8" r="11.4" fill="#1b80cf" stroke="#3a0a8a" stroke-width="1.8"/>
<text x="359.2" y="363.9" font-size="16.5" fill="#fff" text-anchor="middle" dominant-baseline="central">C</text>
<circle cx="152.4" cy="468.5" r="11.4" fill="#1b80cf" stroke="#3a0a8a" stroke-width="1.8"/>
<text x="152.4" y="468.6" font-size="16.5" fill="#fff" text-anchor="middle" dominant-baseline="central">A</text>
<circle cx="359" cy="459.6" r="11.4" fill="#1b80cf" stroke="#3a0a8a" stroke-width="1.8"/>
<text x="359" y="459.7" font-size="16.5" fill="#fff" text-anchor="middle" dominant-baseline="central">C</text>
</svg></body></html>
